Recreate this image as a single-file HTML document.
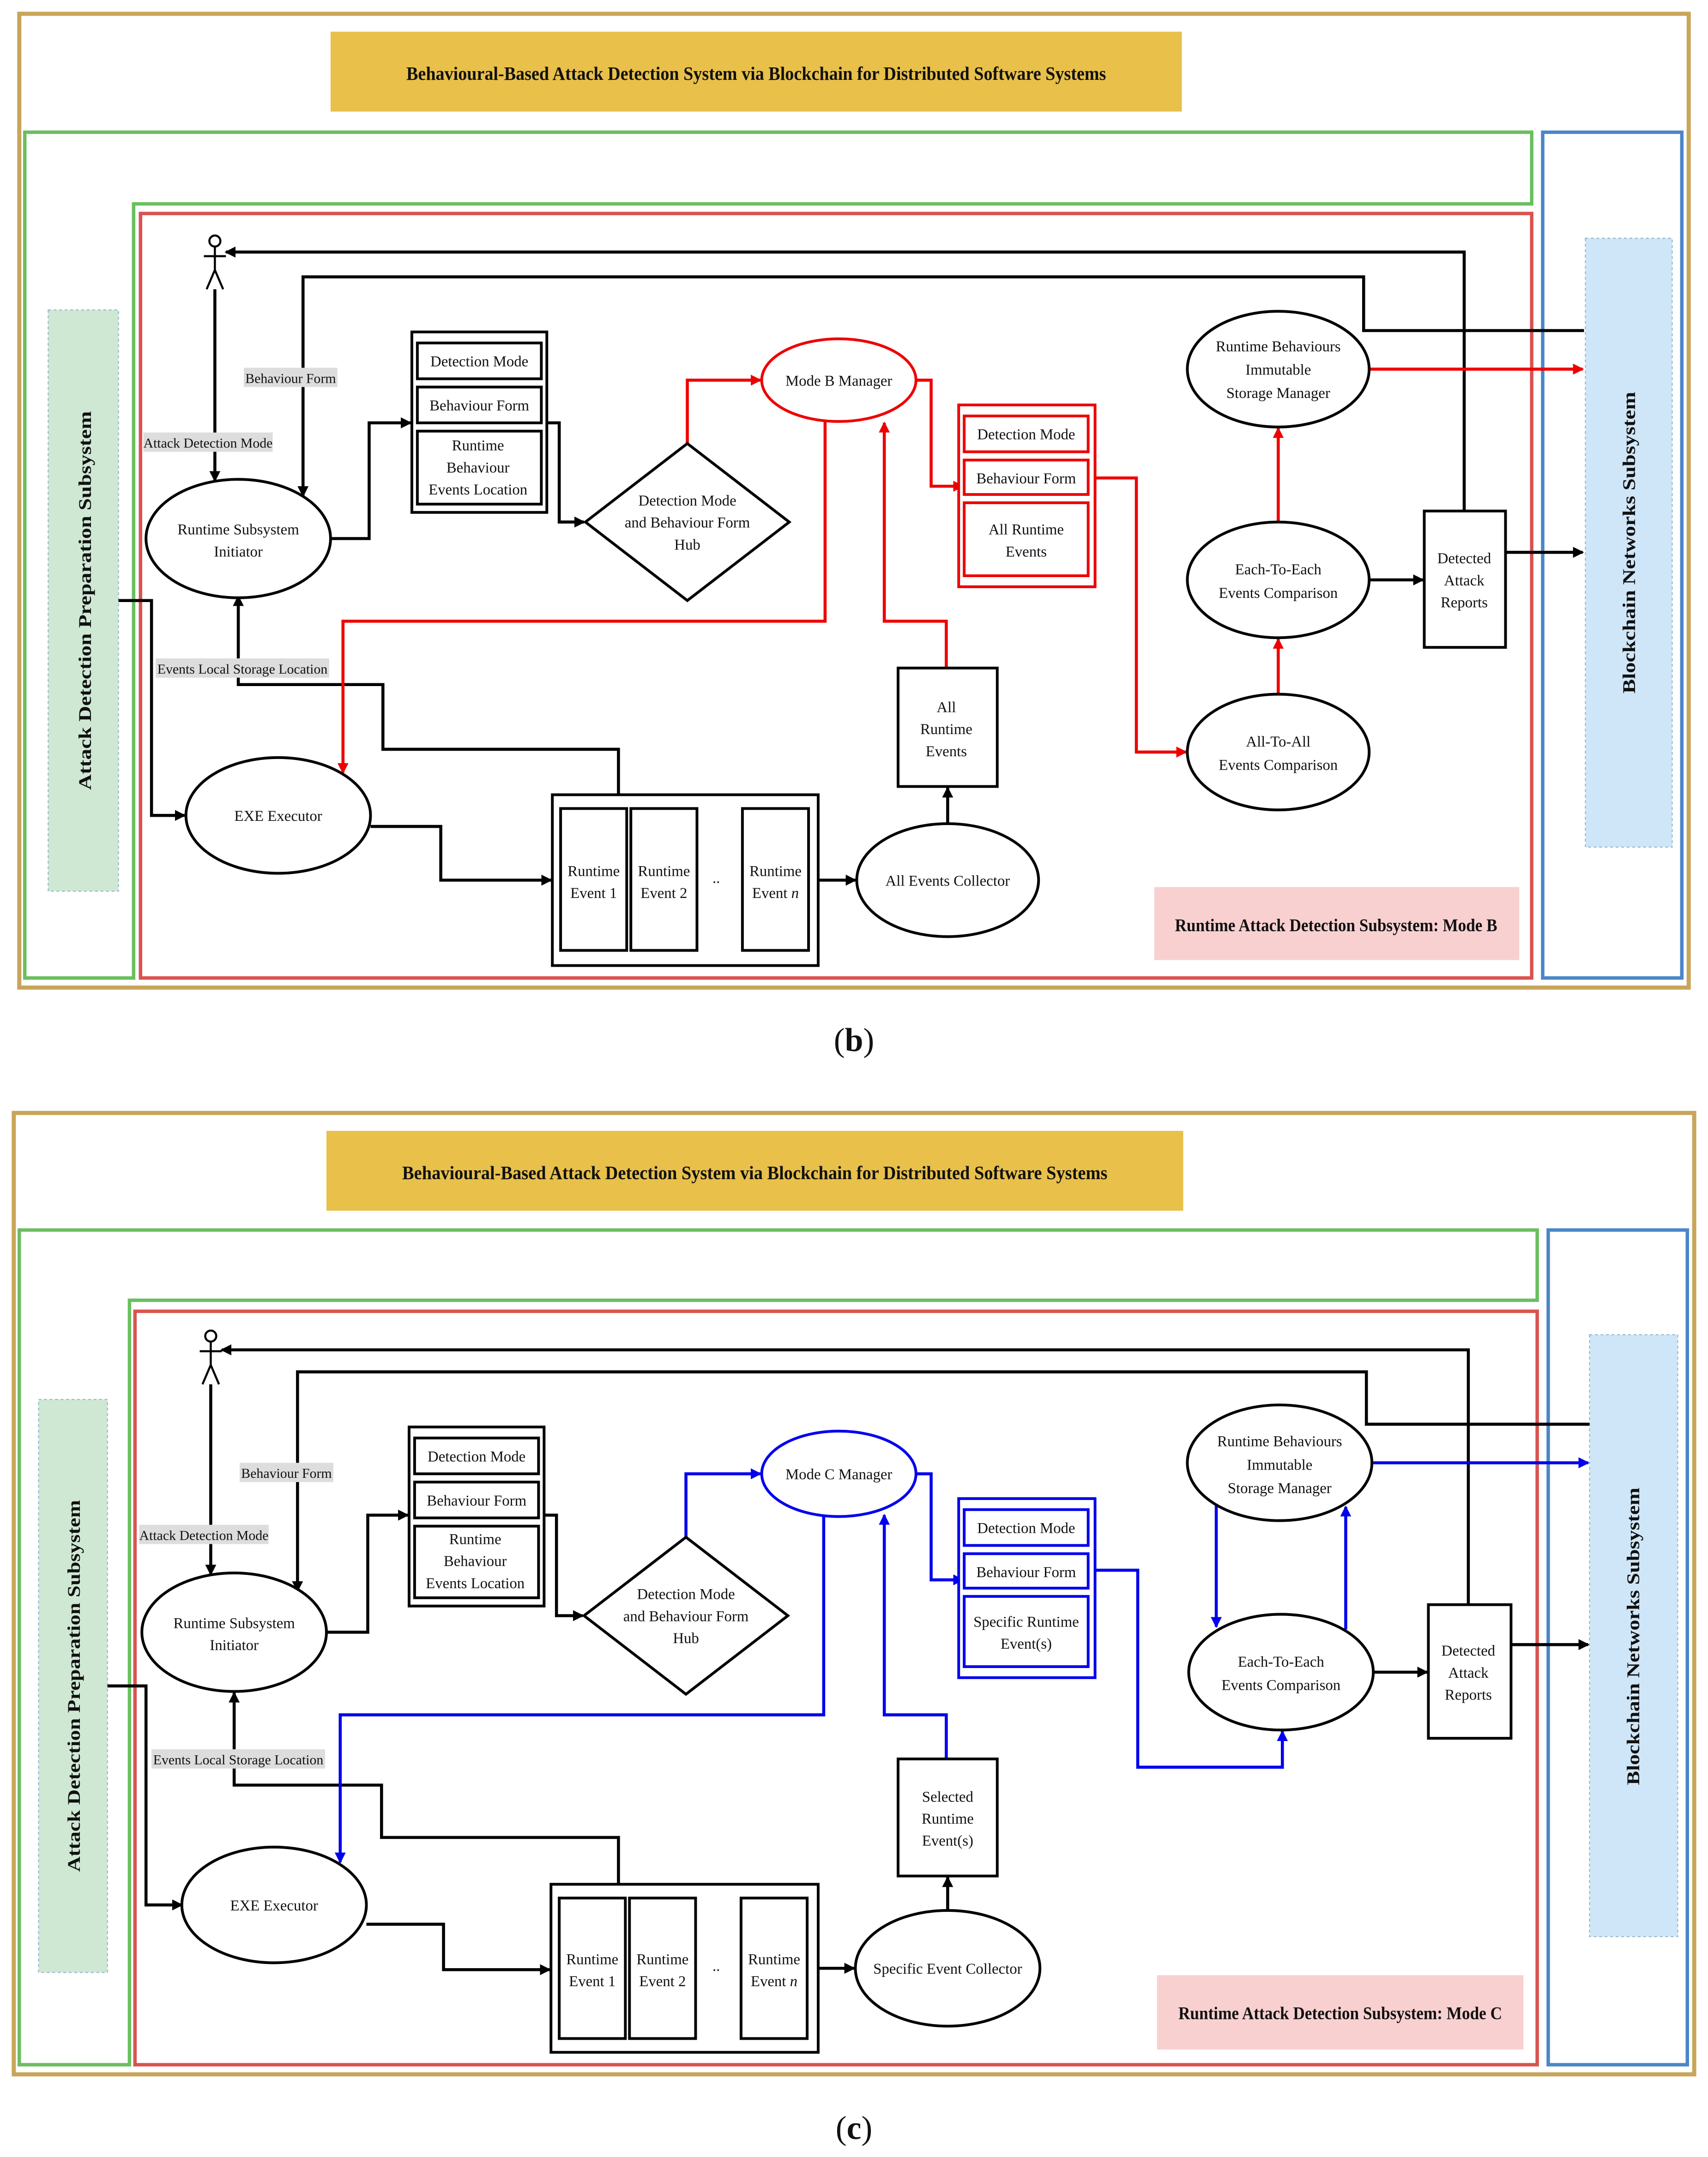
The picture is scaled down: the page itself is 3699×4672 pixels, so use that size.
<!DOCTYPE html>
<html><head><meta charset="utf-8">
<style>
html,body{margin:0;padding:0;background:#fff;}
svg{display:block;}
text{font-family:"Liberation Serif",serif;fill:#111;}
</style></head>
<body>
<svg xmlns="http://www.w3.org/2000/svg" width="3699" height="4672" viewBox="0 0 1240 1566" preserveAspectRatio="none">
<defs>
<marker id="ak" markerWidth="8" markerHeight="8" refX="7" refY="4" orient="auto" markerUnits="userSpaceOnUse"><path d="M0,0 L8,4 L0,8 Z" fill="#000"/></marker>
<marker id="ar" markerWidth="8" markerHeight="8" refX="7" refY="4" orient="auto" markerUnits="userSpaceOnUse"><path d="M0,0 L8,4 L0,8 Z" fill="#e00"/></marker>
<marker id="ab" markerWidth="8" markerHeight="8" refX="7" refY="4" orient="auto" markerUnits="userSpaceOnUse"><path d="M0,0 L8,4 L0,8 Z" fill="#00e"/></marker>
</defs>
<rect width="1240" height="1566" fill="#fff"/>

<!-- ================= PANEL B ================= -->
<g>
<rect x="14" y="10" width="1212" height="707" fill="none" stroke="#c8a55a" stroke-width="3"/>
<rect x="240" y="23" width="618" height="58" fill="#e8c04a"/>
<text x="549" y="58" font-size="14" font-weight="bold" text-anchor="middle" textLength="508" lengthAdjust="spacingAndGlyphs">Behavioural-Based Attack Detection System via Blockchain for Distributed Software Systems</text>
<path d="M18 96 H1112 V148 H97 V710 H18 Z" fill="none" stroke="#6abf5e" stroke-width="2.5"/>
<rect x="102" y="155" width="1010" height="555" fill="none" stroke="#d9534f" stroke-width="2.5"/>
<rect x="1120" y="96" width="101" height="614" fill="none" stroke="#4a86c8" stroke-width="2.5"/>
<rect x="35" y="225" width="51" height="422" fill="#cfe8d4" stroke="#9bc" stroke-dasharray="2,2" stroke-width="0.8"/>
<text transform="translate(66,436) rotate(-90)" font-size="13" font-weight="bold" text-anchor="middle" textLength="275" lengthAdjust="spacingAndGlyphs">Attack Detection Preparation Subsystem</text>
<rect x="1151" y="173" width="63" height="442" fill="#cfe6f8" stroke="#9bc" stroke-dasharray="2,2" stroke-width="0.8"/>
<text transform="translate(1187,394) rotate(-90)" font-size="13" font-weight="bold" text-anchor="middle" textLength="219" lengthAdjust="spacingAndGlyphs">Blockchain Networks Subsystem</text>
<rect x="838" y="644" width="265" height="53" fill="#f9d0d0"/>
<text x="970" y="676" font-size="13" font-weight="bold" text-anchor="middle" textLength="234" lengthAdjust="spacingAndGlyphs">Runtime Attack Detection Subsystem: Mode B</text>

<g stroke="#000" stroke-width="1.5" fill="none"><circle cx="156" cy="175" r="4"/><path d="M156 179 V196 M148 186 H164 M156 196 L150 210 M156 196 L162 210"/></g>

<g fill="none" stroke="#000" stroke-width="2.2">
<path d="M1063 371 V183 H164" marker-end="url(#ak)"/>
<path d="M1150 240 H990 V201 H220 V360" marker-end="url(#ak)"/>
<path d="M156 210 V349" marker-end="url(#ak)"/>
<path d="M240 391 H268 V307 H298" marker-end="url(#ak)"/>
<path d="M397 307 H406 V379 H424" marker-end="url(#ak)"/>
<path d="M86 436 H110 V592 H134" marker-end="url(#ak)"/>
<path d="M449 577 V544 H278 V497 H173 V433" marker-end="url(#ak)"/>
<path d="M269 600 H320 V639 H400" marker-end="url(#ak)"/>
<path d="M594 639 H621" marker-end="url(#ak)"/>
<path d="M688 598 V572" marker-end="url(#ak)"/>
<path d="M994 421 H1033" marker-end="url(#ak)"/>
<path d="M1093 401 H1149" marker-end="url(#ak)"/>
</g>
<g fill="none" stroke="#e00" stroke-width="2.2">
<path d="M499 322 V276 H552" marker-end="url(#ar)"/>
<path d="M665 276 H676 V353 H699" marker-end="url(#ar)"/>
<path d="M599 306 V451 H249 V561" marker-end="url(#ar)"/>
<path d="M687 485 V451 H642 V307" marker-end="url(#ar)"/>
<path d="M790 347 H825 V546 H861" marker-end="url(#ar)"/>
<path d="M928 504 V464" marker-end="url(#ar)"/>
<path d="M928 379 V311" marker-end="url(#ar)"/>
<path d="M994 268 H1149" marker-end="url(#ar)"/>
</g>

<rect x="104" y="314" width="94" height="14" fill="#ddd"/><text x="151" y="325" font-size="10" text-anchor="middle">Attack Detection Mode</text>
<rect x="177" y="267" width="68" height="14" fill="#ddd"/><text x="211" y="278" font-size="10" text-anchor="middle">Behaviour Form</text>
<rect x="113" y="478" width="126" height="14" fill="#ddd"/><text x="176" y="489" font-size="10" text-anchor="middle">Events Local Storage Location</text>

<g fill="#fff" stroke="#000" stroke-width="2">
<ellipse cx="173" cy="391" rx="67" ry="43"/>
<ellipse cx="202" cy="592" rx="67" ry="42"/>
<ellipse cx="688" cy="639" rx="66" ry="41"/>
<ellipse cx="928" cy="268" rx="66" ry="42"/>
<ellipse cx="928" cy="421" rx="66" ry="42"/>
<ellipse cx="928" cy="546" rx="66" ry="42"/>
<path d="M499 322 L573 379 L499 436 L425 379 Z"/>
<rect x="1034" y="371" width="59" height="99"/>
<rect x="652" y="485" width="72" height="86"/>
<rect x="299" y="241" width="98" height="131"/>
<rect x="303" y="249" width="90" height="26"/><rect x="303" y="281" width="90" height="26"/><rect x="303" y="313" width="90" height="53"/>
<rect x="401" y="577" width="193" height="124"/>
<rect x="407" y="587" width="48" height="103"/><rect x="458" y="587" width="48" height="103"/><rect x="539" y="587" width="48" height="103"/>
</g>
<g fill="#fff" stroke="#e00" stroke-width="2">
<ellipse cx="609" cy="276" rx="56" ry="30"/>
<rect x="696" y="294" width="99" height="132"/>
<rect x="700" y="302" width="90" height="26"/><rect x="700" y="334" width="90" height="25"/><rect x="700" y="365" width="90" height="53"/>
</g>
<g font-size="11" text-anchor="middle">
<text x="173" y="388">Runtime Subsystem</text><text x="173" y="404">Initiator</text>
<text x="202" y="596">EXE Executor</text>
<text x="688" y="643">All Events Collector</text>
<text x="928" y="255">Runtime Behaviours</text><text x="928" y="272">Immutable</text><text x="928" y="289">Storage Manager</text>
<text x="928" y="417">Each-To-Each</text><text x="928" y="434">Events Comparison</text>
<text x="928" y="542">All-To-All</text><text x="928" y="559">Events Comparison</text>
<text x="499" y="367">Detection Mode</text><text x="499" y="383">and Behaviour Form</text><text x="499" y="399">Hub</text>
<text x="1063" y="409">Detected</text><text x="1063" y="425">Attack</text><text x="1063" y="441">Reports</text>
<text x="687" y="517">All</text><text x="687" y="533">Runtime</text><text x="687" y="549">Events</text>
<text x="348" y="266">Detection Mode</text><text x="348" y="298">Behaviour Form</text>
<text x="347" y="327">Runtime</text><text x="347" y="343">Behaviour</text><text x="347" y="359">Events Location</text>
<text x="431" y="636">Runtime</text><text x="431" y="652">Event 1</text>
<text x="482" y="636">Runtime</text><text x="482" y="652">Event 2</text>
<text x="520" y="641">..</text>
<text x="563" y="636">Runtime</text><text x="563" y="652">Event <tspan font-style="italic">n</tspan></text>
<text x="609" y="280">Mode B Manager</text>
<text x="745" y="319">Detection Mode</text><text x="745" y="351">Behaviour Form</text>
<text x="745" y="388">All Runtime</text><text x="745" y="404">Events</text>
</g>
<text x="620" y="763" font-size="24" text-anchor="middle">(<tspan font-weight="bold">b</tspan>)</text>
</g>

<!-- ================= PANEL C ================= -->
<g>
<rect x="10" y="808" width="1220" height="698" fill="none" stroke="#c8a55a" stroke-width="3"/>
<rect x="237" y="821" width="622" height="58" fill="#e8c04a"/>
<text x="548" y="856" font-size="14" font-weight="bold" text-anchor="middle" textLength="512" lengthAdjust="spacingAndGlyphs">Behavioural-Based Attack Detection System via Blockchain for Distributed Software Systems</text>
<path d="M14 893 H1116 V944 H94 V1499 H14 Z" fill="none" stroke="#6abf5e" stroke-width="2.5"/>
<rect x="98" y="952" width="1018" height="547" fill="none" stroke="#d9534f" stroke-width="2.5"/>
<rect x="1124" y="893" width="101" height="606" fill="none" stroke="#4a86c8" stroke-width="2.5"/>
<rect x="28" y="1016" width="50" height="416" fill="#cfe8d4" stroke="#9bc" stroke-dasharray="2,2" stroke-width="0.8"/>
<text transform="translate(58,1224) rotate(-90)" font-size="13" font-weight="bold" text-anchor="middle" textLength="270" lengthAdjust="spacingAndGlyphs">Attack Detection Preparation Subsystem</text>
<rect x="1154" y="969" width="64" height="437" fill="#cfe6f8" stroke="#9bc" stroke-dasharray="2,2" stroke-width="0.8"/>
<text transform="translate(1190,1188) rotate(-90)" font-size="13" font-weight="bold" text-anchor="middle" textLength="216" lengthAdjust="spacingAndGlyphs">Blockchain Networks Subsystem</text>
<rect x="840" y="1434" width="266" height="54" fill="#f9d0d0"/>
<text x="973" y="1466" font-size="13" font-weight="bold" text-anchor="middle" textLength="235" lengthAdjust="spacingAndGlyphs">Runtime Attack Detection Subsystem: Mode C</text>

<g stroke="#000" stroke-width="1.5" fill="none"><circle cx="153" cy="970" r="4"/><path d="M153 974 V991 M145 981 H161 M153 991 L147 1005 M153 991 L159 1005"/></g>

<g fill="none" stroke="#000" stroke-width="2.2">
<path d="M1066 1165 V980 H161" marker-end="url(#ak)"/>
<path d="M1154 1034 H992 V996 H216 V1155" marker-end="url(#ak)"/>
<path d="M153 1005 V1143" marker-end="url(#ak)"/>
<path d="M237 1185 H267 V1100 H296" marker-end="url(#ak)"/>
<path d="M395 1100 H404 V1173 H423" marker-end="url(#ak)"/>
<path d="M78 1224 H106 V1383 H132" marker-end="url(#ak)"/>
<path d="M449 1368 V1334 H277 V1296 H170 V1229" marker-end="url(#ak)"/>
<path d="M266 1397 H322 V1430 H399" marker-end="url(#ak)"/>
<path d="M594 1429 H620" marker-end="url(#ak)"/>
<path d="M688 1387 V1363" marker-end="url(#ak)"/>
<path d="M997 1214 H1036" marker-end="url(#ak)"/>
<path d="M1097 1194 H1153" marker-end="url(#ak)"/>
</g>
<g fill="none" stroke="#00e" stroke-width="2.2">
<path d="M498 1116 V1070 H552" marker-end="url(#ab)"/>
<path d="M665 1070 H676 V1147 H699" marker-end="url(#ab)"/>
<path d="M598 1101 V1245 H247 V1352" marker-end="url(#ab)"/>
<path d="M687 1277 V1245 H642 V1100" marker-end="url(#ab)"/>
<path d="M790 1140 H826 V1283 H931 V1257" marker-end="url(#ab)"/>
<path d="M883 1093 V1181" marker-end="url(#ab)"/>
<path d="M977 1183 V1094" marker-end="url(#ab)"/>
<path d="M997 1062 H1153" marker-end="url(#ab)"/>
</g>

<rect x="101" y="1107" width="94" height="14" fill="#ddd"/><text x="148" y="1118" font-size="10" text-anchor="middle">Attack Detection Mode</text>
<rect x="174" y="1062" width="68" height="14" fill="#ddd"/><text x="208" y="1073" font-size="10" text-anchor="middle">Behaviour Form</text>
<rect x="110" y="1270" width="126" height="14" fill="#ddd"/><text x="173" y="1281" font-size="10" text-anchor="middle">Events Local Storage Location</text>

<g fill="#fff" stroke="#000" stroke-width="2">
<ellipse cx="170" cy="1185" rx="67" ry="43"/>
<ellipse cx="199" cy="1383" rx="67" ry="42"/>
<ellipse cx="688" cy="1429" rx="67" ry="42"/>
<ellipse cx="929" cy="1062" rx="67" ry="42"/>
<ellipse cx="930" cy="1214" rx="67" ry="42"/>
<path d="M498 1116 L572 1173 L498 1230 L424 1173 Z"/>
<rect x="1037" y="1165" width="60" height="97"/>
<rect x="652" y="1277" width="72" height="85"/>
<rect x="297" y="1036" width="98" height="130"/>
<rect x="301" y="1044" width="90" height="26"/><rect x="301" y="1076" width="90" height="26"/><rect x="301" y="1108" width="90" height="52"/>
<rect x="400" y="1368" width="194" height="122"/>
<rect x="406" y="1378" width="48" height="102"/><rect x="457" y="1378" width="48" height="102"/><rect x="538" y="1378" width="48" height="102"/>
</g>
<g fill="#fff" stroke="#00e" stroke-width="2">
<ellipse cx="609" cy="1070" rx="56" ry="31"/>
<rect x="696" y="1088" width="99" height="130"/>
<rect x="700" y="1096" width="90" height="26"/><rect x="700" y="1128" width="90" height="25"/><rect x="700" y="1159" width="90" height="51"/>
</g>
<g font-size="11" text-anchor="middle">
<text x="170" y="1182">Runtime Subsystem</text><text x="170" y="1198">Initiator</text>
<text x="199" y="1387">EXE Executor</text>
<text x="688" y="1433">Specific Event Collector</text>
<text x="929" y="1050">Runtime Behaviours</text><text x="929" y="1067">Immutable</text><text x="929" y="1084">Storage Manager</text>
<text x="930" y="1210">Each-To-Each</text><text x="930" y="1227">Events Comparison</text>
<text x="498" y="1161">Detection Mode</text><text x="498" y="1177">and Behaviour Form</text><text x="498" y="1193">Hub</text>
<text x="1066" y="1202">Detected</text><text x="1066" y="1218">Attack</text><text x="1066" y="1234">Reports</text>
<text x="688" y="1308">Selected</text><text x="688" y="1324">Runtime</text><text x="688" y="1340">Event(s)</text>
<text x="346" y="1061">Detection Mode</text><text x="346" y="1093">Behaviour Form</text>
<text x="345" y="1121">Runtime</text><text x="345" y="1137">Behaviour</text><text x="345" y="1153">Events Location</text>
<text x="430" y="1426">Runtime</text><text x="430" y="1442">Event 1</text>
<text x="481" y="1426">Runtime</text><text x="481" y="1442">Event 2</text>
<text x="520" y="1431">..</text>
<text x="562" y="1426">Runtime</text><text x="562" y="1442">Event <tspan font-style="italic">n</tspan></text>
<text x="609" y="1074">Mode C Manager</text>
<text x="745" y="1113">Detection Mode</text><text x="745" y="1145">Behaviour Form</text>
<text x="745" y="1181">Specific Runtime</text><text x="745" y="1197">Event(s)</text>
</g>
<text x="620" y="1553" font-size="24" text-anchor="middle">(<tspan font-weight="bold">c</tspan>)</text>
</g>
</svg>
</body></html>
